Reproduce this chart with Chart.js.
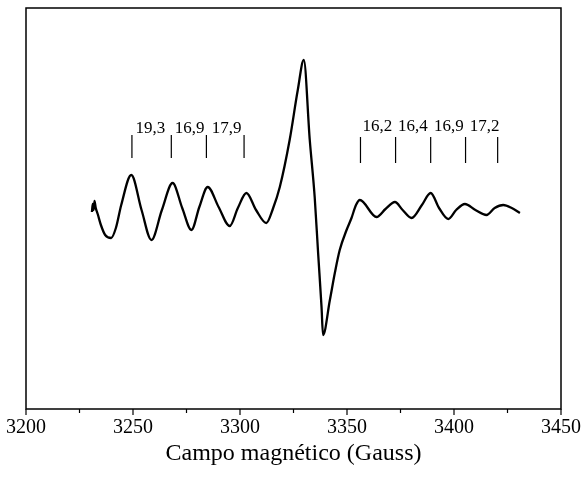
<!DOCTYPE html>
<html>
<head>
<meta charset="utf-8">
<script src="https://cdn.jsdelivr.net/npm/chart.js@4.4.0/dist/chart.umd.min.js"></script>
<style>
  html, body { margin: 0; padding: 0; background: #fff; }
  #wrap { width: 581px; height: 479px; }
</style>
</head>
<body>
<div id="wrap"><canvas id="epr" width="581" height="479"></canvas></div>
<script>
const campo = [
  3230.8, 3231.2, 3231.6, 3232.0, 3232.6, 3233.5, 3235.0, 3237.0, 3239.8,
  3242.0, 3244.5, 3249.2, 3254.0, 3258.6, 3263.5, 3268.5, 3273.0, 3277.3, 3281.0,
  3284.9, 3290.0, 3295.2, 3299.0, 3303.0, 3307.5, 3312.3, 3315.5, 3318.6,
  3323.2, 3327.0, 3329.8, 3332.6, 3334.9, 3336.5, 3338.1, 3338.8, 3342.0,
  3344.4, 3346.6, 3349.8, 3352.1, 3354.2, 3356.0, 3363.8, 3368.0, 3372.4, 3376.0,
  3380.2, 3385.0, 3389.1, 3393.0, 3397.3, 3401.0, 3405.1, 3410.0, 3415.2,
  3419.0, 3423.0, 3427.0, 3430.8
];
const sinal = [
  -2, 6, 0, 9, 2, -4, -15, -25, -28,
  -18, 5, 35, 0, -30, 0, 27, 2, -20, 3,
  23, 3, -16, 2, 17, 0, -13, 2, 23,
  70, 120, 150, 70, 13, -43, -97, -125, -90,
  -62, -40, -20, -8, 5, 10, -7, 1, 8, 0,
  -8, 5, 17, 2, -9, 0, 6, 0, -5,
  2, 5, 2, -3
];

// marcas das separações hiperfinas
const marcasEsq = [3249.5, 3267.9, 3284.3, 3301.9];
const marcasDir = [3356.3, 3372.7, 3389.1, 3405.4, 3420.4];
const rotulos = ['19,3', '16,9', '17,9', '16,2', '16,4', '16,9', '17,2'];
const rotulosX = [3251.2, 3269.5, 3286.8, 3357.3, 3373.8, 3390.6, 3407.4];
const rotulosY = [77, 77, 77, 79, 79, 79, 79];

const xTicks = [3200, 3250, 3300, 3350, 3400, 3450];

const $ = id => document.getElementById(id);
const serif = '"Liberation Serif", "Times New Roman", serif';

function segs(xs, top, bot) {
  const out = [];
  xs.forEach(x => { out.push({ x, y: top }, { x, y: bot }, { x, y: null }); });
  return out;
}

const moldura = {
  id: 'moldura',
  afterDraw(chart) {
    const { ctx, chartArea: a, scales } = chart;
    const sx = scales.x;
    ctx.save();
    ctx.strokeStyle = '#000';
    ctx.lineWidth = 1.5;
    ctx.strokeRect(a.left, a.top, a.right - a.left, a.bottom - a.top);
    // ticks maiores e menores
    ctx.lineWidth = 1.2;
    for (let v = 3200; v <= 3450; v += 25) {
      const px = sx.getPixelForValue(v);
      const len = v % 50 === 0 ? 6 : 4;
      ctx.beginPath();
      ctx.moveTo(px, a.bottom);
      ctx.lineTo(px, a.bottom + len);
      ctx.stroke();
    }
    ctx.fillStyle = '#000';
    ctx.textAlign = 'center';
    ctx.textBaseline = 'middle';
    ctx.font = '20px ' + serif;
    xTicks.forEach(v => ctx.fillText(String(v), sx.getPixelForValue(v), a.bottom + 19));
    ctx.font = '24px ' + serif;
    ctx.fillText('Campo magnético (Gauss)', (a.left + a.right) / 2, a.bottom + 45);
    // rótulos
    ctx.font = '17px ' + serif;
    ctx.textAlign = 'left';
    ctx.textBaseline = 'alphabetic';
    rotulos.forEach((t, i) => {
      ctx.fillText(t, sx.getPixelForValue(rotulosX[i]), scales.y.getPixelForValue(rotulosY[i]));
    });
    ctx.restore();
  }
};

new Chart($('epr'), {
  type: 'line',
  data: {
    datasets: [
      {
        data: campo.map((x, i) => ({ x, y: sinal[i] })),
        borderColor: '#000', borderWidth: 2.3, pointRadius: 0,
        cubicInterpolationMode: 'monotone', fill: false
      },
      {
        data: segs(marcasEsq, 75, 52),
        borderColor: '#000', borderWidth: 1.2, pointRadius: 0, spanGaps: false
      },
      {
        data: segs(marcasDir, 73, 47),
        borderColor: '#000', borderWidth: 1.2, pointRadius: 0, spanGaps: false
      }
    ]
  },
  options: {
    responsive: false, animation: false, devicePixelRatio: 1,
    layout: { padding: { left: 26, top: 8, right: 20, bottom: 0 } },
    plugins: { legend: { display: false }, tooltip: { enabled: false } },
    scales: {
      x: {
        type: 'linear', min: 3200, max: 3450,
        grid: { display: false }, border: { display: false },
        ticks: { display: false },
        afterFit: s => { s.height = 70; }
      },
      y: { min: -199, max: 202, display: false }
    }
  },
  plugins: [moldura]
});
</script>
</body>
</html>
